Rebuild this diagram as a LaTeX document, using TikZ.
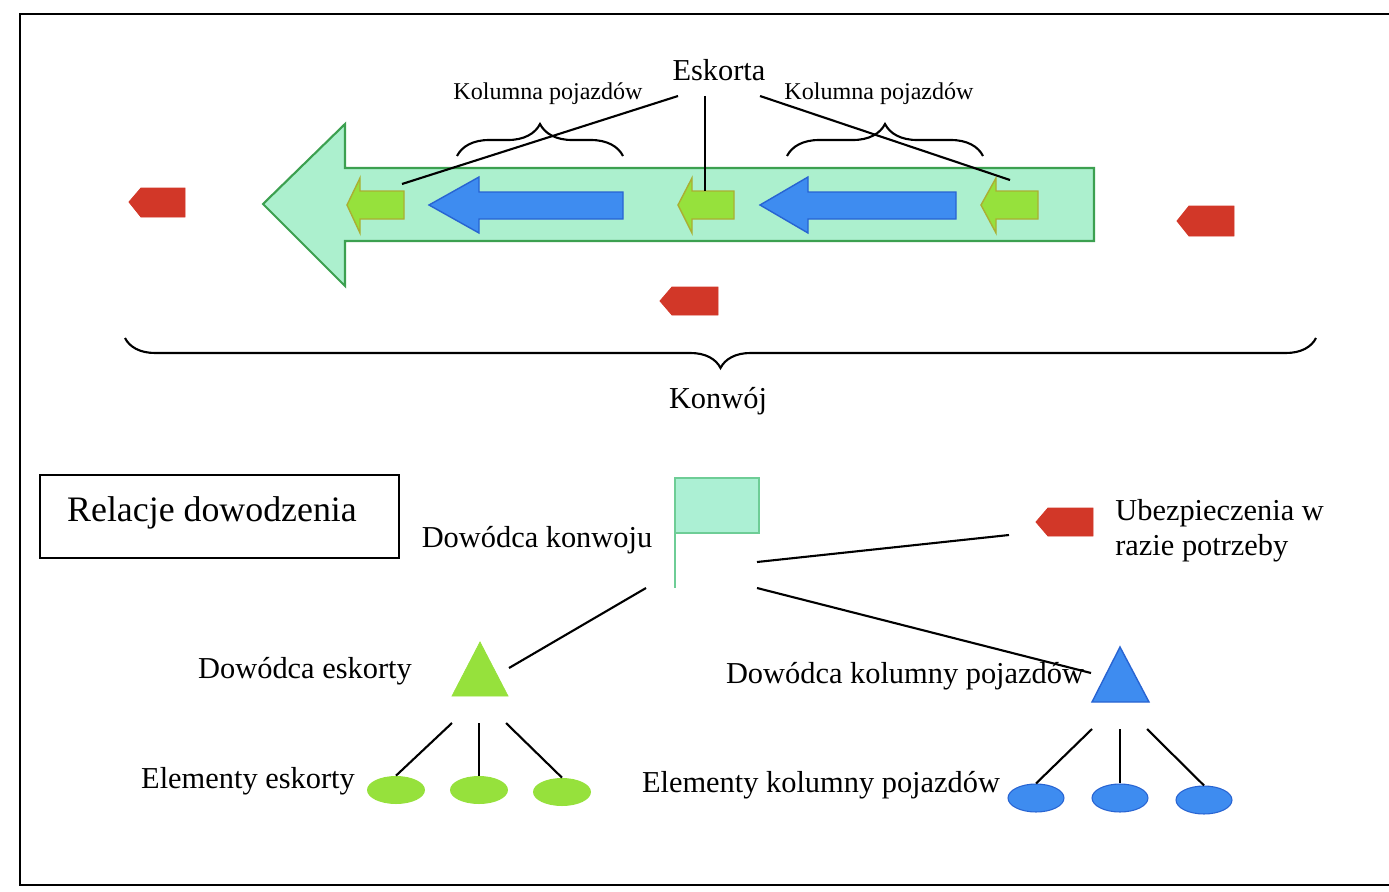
\documentclass[tikz,border=0pt]{standalone}
\usepackage{fontspec}
\setmainfont{Liberation Serif}
\usetikzlibrary{shapes.geometric,decorations.pathreplacing}
\definecolor{mintfill}{RGB}{172,240,206}
\definecolor{mintline}{RGB}{60,160,80}
\definecolor{limefill}{RGB}{150,225,60}
\definecolor{limeline}{RGB}{170,175,50}
\definecolor{bluefill}{RGB}{62,140,240}
\definecolor{blueline}{RGB}{40,100,210}
\definecolor{redfill}{RGB}{210,55,40}
\definecolor{flagfill}{RGB}{172,240,212}
\definecolor{flagline}{RGB}{110,205,150}
\begin{document}
\begin{tikzpicture}[x=0.02cm,y=-0.02cm,
  conn/.style={draw=black,line width=1.2pt},
  frame/.style={draw=black,line width=1.2pt},
  convoy/.style={fill=mintfill,draw=mintline,line width=1.2pt},
  escort/.style={fill=limefill,draw=limeline,line width=0.8pt},
  column/.style={fill=bluefill,draw=blueline,line width=0.8pt},
  guard/.style={fill=redfill,draw=redfill,line width=0.5pt},
  bigtxt/.style={font=\fontsize{17.3}{20}\selectfont,inner sep=0pt},
  smalltxt/.style={font=\fontsize{13.7}{16}\selectfont,inner sep=0pt},
  titletxt/.style={font=\fontsize{20.4}{24}\selectfont,inner sep=0pt},
  bracestyle/.style={draw=black,line width=1.2pt,decorate},
  elem/.style={ellipse,inner sep=0pt,minimum height=0.56cm},
]
\useasboundingbox (0,0) rectangle (1389,892);
% frame
\draw[frame] (1389,14) -- (20,14) -- (20,885) -- (1389,885);

% big convoy arrow
\path[convoy] (263,204) -- (345,124) -- (345,168) -- (1094,168) -- (1094,241) -- (345,241) -- (345,286) -- cycle;

% escort arrows (lime)
\path[escort] (347,205) -- (360,178) -- (360,191) -- (404,191) -- (404,219) -- (360,219) -- (360,233) -- cycle;
\path[escort] (678,205) -- (692,178) -- (692,191) -- (734,191) -- (734,219) -- (692,219) -- (692,233) -- cycle;
\path[escort] (981,205) -- (996,178) -- (996,191) -- (1038,191) -- (1038,219) -- (996,219) -- (996,233) -- cycle;

% column arrows (blue)
\path[column] (429,205) -- (479,177) -- (479,192) -- (623,192) -- (623,219) -- (479,219) -- (479,233) -- cycle;
\path[column] (760,205) -- (808,177) -- (808,192) -- (956,192) -- (956,219) -- (808,219) -- (808,233) -- cycle;

% guards (red)
\path[guard] (129,202) -- (141,188) -- (185,188) -- (185,217) -- (141,217) -- cycle;
\path[guard] (1177,221) -- (1189,206) -- (1234,206) -- (1234,236) -- (1189,236) -- cycle;
\path[guard] (660,301) -- (672,287) -- (718,287) -- (718,315) -- (672,315) -- cycle;

% labels top
\node[bigtxt,anchor=base] (esk) at (719,81) {Eskorta};
\node[smalltxt,anchor=base] (kol1) at (548,100) {Kolumna pojazdów};
\node[smalltxt,anchor=base] (kol2) at (879,100) {Kolumna pojazdów};

% braces
\draw[bracestyle,decoration={brace,amplitude=0.64cm}] (457,156) -- (623,156);
\draw[bracestyle,decoration={brace,amplitude=0.64cm}] (787,156) -- (983,156);
\draw[bracestyle,decoration={brace,amplitude=0.6cm}] (1316,338) -- (125,338);
\node[bigtxt,anchor=base] (konw) at (718,408) {Konwój};

% escort pointer lines
\coordinate (eL) at (678,96);
\coordinate (eM) at (705,96);
\coordinate (eR) at (760,96);
\coordinate (g1) at (402,184);
\coordinate (g2) at (705,191);
\coordinate (g3) at (1010,180);
\draw[conn] (eL) -- (g1);
\draw[conn] (eM) -- (g2);
\draw[conn] (eR) -- (g3);

% legend box
\node[draw=black,line width=1.2pt,minimum width=7.18cm,minimum height=1.66cm,inner sep=0pt] (relbox) at (219.5,516.5) {};
\node[titletxt,anchor=base] (rel) at (212,521) {Relacje dowodzenia};

% convoy commander flag
\path[fill=flagfill,draw=flagline,line width=0.8pt] (675,478) rectangle (759,533);
\draw[flagline,line width=1.2pt] (675,533) -- (675,588);
\node[bigtxt,anchor=base] (dk) at (537,547) {Dowódca konwoju};

% guards legend
\path[guard] (1036,522) -- (1048,508) -- (1093,508) -- (1093,536) -- (1048,536) -- cycle;
\node[bigtxt,anchor=base west] (ub1) at (1115,520) {Ubezpieczenia w};
\node[bigtxt,anchor=base west] (ub2) at (1115,555) {razie potrzeby};

% escort commander
\path[fill=limefill,draw=limefill] (480,642) -- (508,696) -- (452,696) -- cycle;
\node[bigtxt,anchor=base] (de) at (305,678) {Dowódca eskorty};

% column commander
\path[column] (1120,647) -- (1149,702) -- (1092,702) -- cycle;
\node[bigtxt,anchor=base] (dkp) at (905,683) {Dowódca kolumny pojazdów};

% connectors from flag
\coordinate (fA) at (646,588);
\coordinate (fB) at (757,562);
\coordinate (fC) at (757,588);
\coordinate (tE) at (509,668);
\coordinate (rG) at (1009,535);
\coordinate (tK) at (1091,673);
\draw[conn] (fA) -- (tE);
\draw[conn] (fB) -- (rG);
\draw[conn] (fC) -- (tK);

% escort elements
\node[elem,fill=limefill,minimum width=1.16cm] (ee1) at (396,790) {};
\node[elem,fill=limefill,minimum width=1.16cm] (ee2) at (479,790) {};
\node[elem,fill=limefill,minimum width=1.16cm] (ee3) at (562,792) {};
\node[bigtxt,anchor=base] (eet) at (248,788) {Elementy eskorty};
\coordinate (te1) at (452,723);
\coordinate (te2) at (479,723);
\coordinate (te3) at (506,723);
\draw[conn] (te1) -- (ee1.north);
\draw[conn] (te2) -- (ee2.north);
\draw[conn] (te3) -- (ee3.north);

% column elements
\node[elem,fill=bluefill,draw=blueline,line width=0.6pt,minimum width=1.12cm] (ce1) at (1036,798) {};
\node[elem,fill=bluefill,draw=blueline,line width=0.6pt,minimum width=1.12cm] (ce2) at (1120,798) {};
\node[elem,fill=bluefill,draw=blueline,line width=0.6pt,minimum width=1.12cm] (ce3) at (1204,800) {};
\node[bigtxt,anchor=base] (cet) at (821,792) {Elementy kolumny pojazdów};
\coordinate (tc1) at (1092,729);
\coordinate (tc2) at (1120,729);
\coordinate (tc3) at (1147,729);
\draw[conn] (tc1) -- (ce1.north);
\draw[conn] (tc2) -- (ce2.north);
\draw[conn] (tc3) -- (ce3.north);
\end{tikzpicture}
\end{document}
